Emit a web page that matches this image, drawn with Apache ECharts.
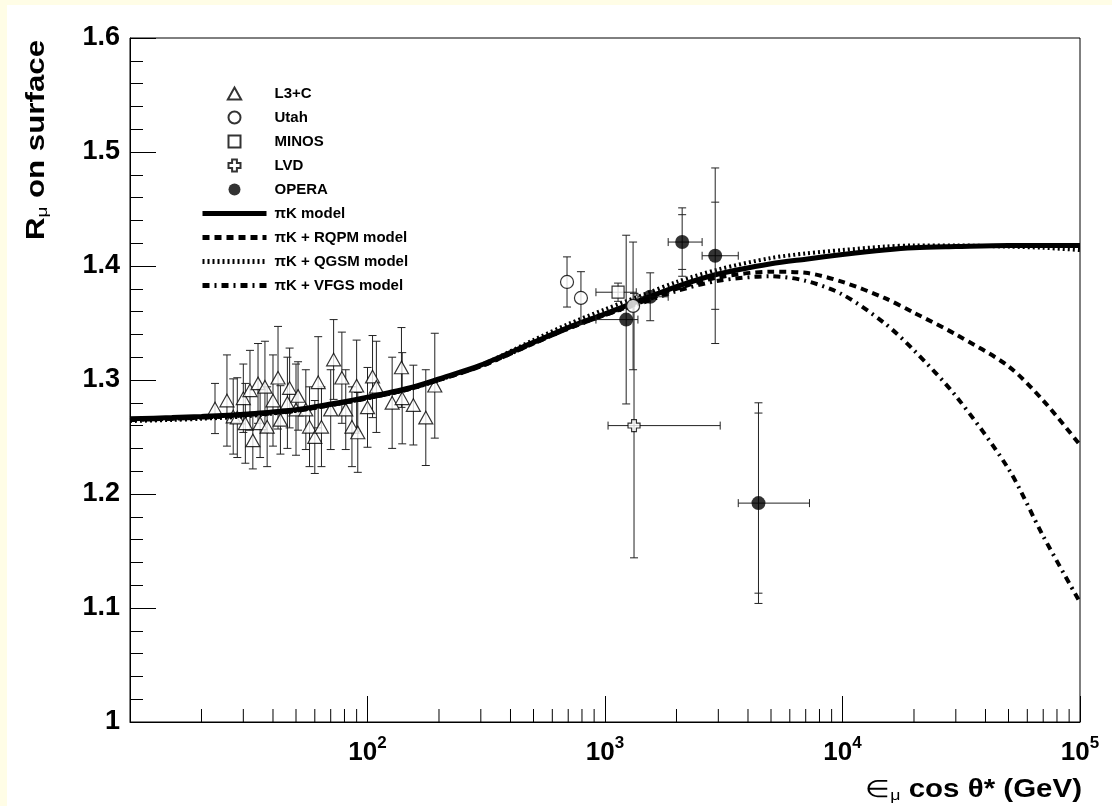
<!DOCTYPE html>
<html><head><meta charset="utf-8">
<script src="https://cdn.jsdelivr.net/npm/echarts@6/dist/echarts.min.js"></script>
<style>
html,body{margin:0;padding:0;background:#fffde6;width:1112px;height:806px;overflow:hidden;}
#wrap{position:absolute;left:7px;top:5px;width:1105px;height:801px;background:#fff;}
#chart{position:absolute;left:0;top:0;width:1112px;height:806px;}
</style></head><body>
<div id="wrap"></div><div id="chart"></div>
<script>
// ---------- data ----------
const modelX = [10, 15, 20, 30, 50, 70, 100, 150, 200, 300, 500, 700, 1000, 1500, 2000, 3000, 5000, 7000, 10000, 15000, 20000, 30000, 50000, 70000, 100000];
const piK  = [1.266,1.267,1.268,1.270,1.274,1.279,1.285,1.293,1.301,1.313,1.333,1.346,1.358,1.372,1.382,1.393,1.402,1.406,1.410,1.414,1.416,1.417,1.418,1.418,1.418];
const qgsm = [1.264,1.265,1.266,1.268,1.273,1.278,1.284,1.292,1.300,1.313,1.335,1.349,1.362,1.376,1.386,1.397,1.407,1.411,1.414,1.417,1.418,1.418,1.417,1.416,1.414];
const rqpm = [1.265,1.266,1.267,1.269,1.273,1.278,1.284,1.292,1.300,1.312,1.332,1.345,1.357,1.370,1.380,1.390,1.395,1.394,1.386,1.372,1.359,1.340,1.312,1.282,1.243];
const vfgs = [1.265,1.266,1.267,1.269,1.273,1.278,1.284,1.292,1.300,1.312,1.332,1.345,1.357,1.369,1.378,1.387,1.391,1.387,1.375,1.350,1.326,1.286,1.222,1.163,1.105];

const l3cX   = [22.8,25.6,27.2,28.3,30.0,30.6,32.0,32.9,34.6,35.3,37.0,37.8,40.0,42.0,43.0,46.0,47.0,50.0,51.0,55.0,57.0,60.0,62.0,64.0,70.0,72.0,78.0,81.0,86.0,90.0,91.0,100,105,109,127,139,140,156,176,192];
const l3cY   = [1.275,1.282,1.268,1.267,1.284,1.262,1.291,1.247,1.297,1.262,1.294,1.259,1.282,1.302,1.265,1.280,1.293,1.274,1.286,1.274,1.259,1.250,1.298,1.259,1.274,1.318,1.302,1.274,1.259,1.295,1.254,1.276,1.303,1.294,1.280,1.311,1.284,1.278,1.267,1.295];
const l3cErr = [0.022,0.040,0.033,0.035,0.030,0.035,0.035,0.025,0.035,0.030,0.040,0.035,0.040,0.045,0.030,0.040,0.035,0.040,0.030,0.035,0.035,0.032,0.040,0.035,0.035,0.035,0.040,0.035,0.035,0.040,0.035,0.035,0.036,0.040,0.040,0.035,0.040,0.035,0.042,0.046];

const utahX = [692, 792, 1313];
const utahY = [1.386, 1.372, 1.365];
const utahErr = [0.022, 0.023, 0.056];

const minosX = [1135];
const minosY = [1.377];
const minosErr = [0.008];
const minosXLo = [916];
const minosXHi = [1354];

const lvdX = [1325];
const lvdY = [1.260];
const lvdErr = [0.116];
const lvdXLo = [1030];
const lvdXHi = [3055];

const operaX = [1228, 1550, 2113, 2911, 4428];
const operaY = [1.353, 1.373, 1.421, 1.409, 1.192];
const operaErr = [0.074, 0.021, 0.030, 0.077, 0.088];
const operaErrInner = [0, 0, 0.024, 0.047, 0.079];
const operaXLo = [916, 1376, 1845, 2564, 3640];
const operaXHi = [1376, 1845, 2564, 3640, 7260];

const decades = [10, 100, 1000, 10000];
const yTickLabels = ['1', '1.1', '1.2', '1.3', '1.4', '1.5', '1.6'];

// ---------- helpers ----------
const FONT = "'Liberation Sans', Arial, sans-serif";
function pairs(xs, ys) { return xs.map((x, i) => [x, ys[i]]); }
function errData(xs, ys, es, xlo, xhi, inner) {
  return xs.map((x, i) => [x, ys[i], ys[i] - es[i], ys[i] + es[i],
    xlo ? xlo[i] : 0, xhi ? xhi[i] : 0, inner ? inner[i] : 0]);
}
function errRender(params, api) {
  const x = api.value(0), y = api.value(1), lo = api.value(2), hi = api.value(3);
  const xl = api.value(4), xh = api.value(5), inner = api.value(6);
  const st = { stroke: '#222', lineWidth: 1 };
  const cap = 4;
  const pLo = api.coord([x, lo]), pHi = api.coord([x, hi]);
  const ch = [];
  const L = (x1, y1, x2, y2) => ch.push({ type: 'line', shape: { x1, y1, x2, y2 }, style: st });
  L(pLo[0], pLo[1], pHi[0], pHi[1]);
  L(pLo[0] - cap, pLo[1], pLo[0] + cap, pLo[1]);
  L(pHi[0] - cap, pHi[1], pHi[0] + cap, pHi[1]);
  if (inner > 0) {
    const a = api.coord([x, y - inner]), b = api.coord([x, y + inner]);
    L(a[0] - cap, a[1], a[0] + cap, a[1]);
    L(b[0] - cap, b[1], b[0] + cap, b[1]);
  }
  if (xl > 0) {
    const a = api.coord([xl, y]), b = api.coord([xh, y]);
    L(a[0], a[1], b[0], b[1]);
    L(a[0], a[1] - cap, a[0], a[1] + cap);
    L(b[0], b[1] - cap, b[0], b[1] + cap);
  }
  return { type: 'group', children: ch };
}
const minorTicks = [];
decades.forEach(d => { for (let k = 2; k <= 9; k++) minorTicks.push([d * k, 1]); });

const crossPath = 'path://M3,0 L7,0 L7,3 L10,3 L10,7 L7,7 L7,10 L3,10 L3,7 L0,7 L0,3 L3,3 Z';
const triPath = 'path://M5,0 L10,9 L0,9 Z';
const sqPath = 'path://M0,0 L10,0 L10,10 L0,10 Z';

const hideSym = { color: 'rgba(0,0,0,0)', borderWidth: 0 };
const lineLegend = (name, type) => ({ name, itemStyle: hideSym, lineStyle: { color: '#000', width: 5, type: type } });

const chart = echarts.init(document.getElementById('chart'), null, { renderer: 'canvas' });
const option = {
  backgroundColor: 'transparent',
  animation: false,
  grid: { left: 130, right: 32, top: 38, bottom: 84, show: true, backgroundColor: '#fff', borderColor: '#000', borderWidth: 1 },
  xAxis: {
    type: 'log', logBase: 10, min: 10, max: 100000,
    axisLine: { lineStyle: { color: '#000', width: 1 } },
    axisTick: { inside: true, length: 26, lineStyle: { color: '#000' } },
    minorTick: { show: false },
    splitLine: { show: false },
    axisLabel: {
      margin: 13, color: '#000',
      formatter: v => { const e = Math.round(Math.log10(v)); return e < 2 ? '' : '{b|10}{s|' + e + '}'; },
      rich: {
        b: { fontSize: 26, fontWeight: 'bold', fontFamily: FONT, color: '#000' },
        s: { fontSize: 17, fontWeight: 'bold', fontFamily: FONT, color: '#000', padding: [0, 0, 18, 0] }
      }
    }
  },
  yAxis: {
    type: 'value', min: 1, max: 1.6, interval: 0.1,
    axisLine: { show: true, lineStyle: { color: '#000', width: 1 } },
    axisTick: { inside: true, length: 26, lineStyle: { color: '#000' } },
    minorTick: { show: true, splitNumber: 5, length: 13, lineStyle: { color: '#000' } },
    splitLine: { show: false },
    axisLabel: {
      margin: 10, color: '#000', fontSize: 27, fontWeight: 'bold', fontFamily: FONT,
      formatter: v => yTickLabels[Math.round((v - 1) * 10)]
    }
  },
  legend: {
    orient: 'vertical', left: 200, top: 86, padding: 0, itemWidth: 64, itemHeight: 12, itemGap: 9,
    textStyle: { fontSize: 15, fontWeight: 'bold', fontFamily: FONT, color: '#000', lineHeight: 15, padding: [0, 0, 0, 3] },
    data: ['L3+C', 'Utah', 'MINOS', 'LVD', 'OPERA',
      lineLegend('πK model', 'solid'),
      lineLegend('πK + RQPM model', [7, 5]),
      lineLegend('πK + QGSM model', [2, 3]),
      lineLegend('πK + VFGS model', [7, 5, 2, 5])]
  },
  graphic: [
    {
      type: 'text', x: 37, y: 140, rotation: Math.PI / 2, scaleX: 1.25,
      style: {
        text: '{r|R}{m|μ}{r| on surface}', align: 'center', verticalAlign: 'middle',
        rich: {
          r: { fontSize: 25, fontWeight: 'bold', fontFamily: FONT, fill: '#000' },
          m: { fontSize: 15, fontFamily: FONT, fill: '#000', padding: [12, 0, 0, 0] }
        }
      }
    },
    {
      type: 'text', x: 1082, y: 790, scaleX: 1.18,
      style: {
        text: '{e|∈}{m|μ}{t| cos θ* (GeV)}', align: 'right', verticalAlign: 'middle',
        rich: {
          e: { fontSize: 24, fontFamily: FONT, fill: '#000' },
          m: { fontSize: 15, fontFamily: FONT, fill: '#000', padding: [12, 0, 0, 0] },
          t: { fontSize: 25, fontWeight: 'bold', fontFamily: FONT, fill: '#000' }
        }
      }
    }
  ],
  series: [
    { type: 'custom', name: 'minorX', silent: true, clip: false, data: minorTicks, encode: { x: 0, y: 1 }, z: 5,
      renderItem: (p, api) => { const c = api.coord([api.value(0), 1]); return { type: 'line', shape: { x1: c[0], y1: c[1], x2: c[0], y2: c[1] - 13 }, style: { stroke: '#000', lineWidth: 1 } }; } },
    // L3+C
    { type: 'custom', name: 'l3cErr', silent: true, data: errData(l3cX, l3cY, l3cErr), encode: { x: 0, y: 1 }, renderItem: errRender, z: 2 },
    { type: 'scatter', name: 'L3+C', data: pairs(l3cX, l3cY), symbol: triPath, symbolSize: 14, symbolKeepAspect: true,
      itemStyle: { color: '#fff', borderColor: '#000', borderWidth: 1.2 }, z: 2 },
    // models
    { type: 'line', name: 'πK model', data: pairs(modelX, piK), smooth: 0.3, symbol: 'none', lineStyle: { color: '#000', width: 5 }, itemStyle: { color: '#000' }, z: 3 },
    { type: 'line', name: 'πK + RQPM model', data: pairs(modelX, rqpm), smooth: 0.3, symbol: 'none', lineStyle: { color: '#000', width: 4, type: [7, 5] }, itemStyle: { color: '#000' }, z: 3 },
    { type: 'line', name: 'πK + QGSM model', data: pairs(modelX, qgsm), smooth: 0.3, symbol: 'none', lineStyle: { color: '#000', width: 4, type: [2, 3] }, itemStyle: { color: '#000' }, z: 3 },
    { type: 'line', name: 'πK + VFGS model', data: pairs(modelX, vfgs), smooth: 0.3, symbol: 'none', lineStyle: { color: '#000', width: 4, type: [7, 5, 2, 5] }, itemStyle: { color: '#000' }, z: 3 },
    // Utah
    { type: 'custom', name: 'utahErr', silent: true, data: errData(utahX, utahY, utahErr), encode: { x: 0, y: 1 }, renderItem: errRender, z: 4 },
    { type: 'scatter', name: 'Utah', data: pairs(utahX, utahY), symbol: 'circle', symbolSize: 13,
      itemStyle: { color: '#fff', borderColor: '#000', borderWidth: 1.2 }, z: 4 },
    // MINOS
    { type: 'custom', name: 'minosErr', silent: true, data: errData(minosX, minosY, minosErr, minosXLo, minosXHi), encode: { x: 0, y: 1 }, renderItem: errRender, z: 4 },
    { type: 'scatter', name: 'MINOS', data: pairs(minosX, minosY), symbol: sqPath, symbolSize: 12, symbolKeepAspect: true,
      itemStyle: { color: '#fff', borderColor: '#000', borderWidth: 1.2 }, z: 4 },
    // LVD
    { type: 'custom', name: 'lvdErr', silent: true, data: errData(lvdX, lvdY, lvdErr, lvdXLo, lvdXHi), encode: { x: 0, y: 1 }, renderItem: errRender, z: 4 },
    { type: 'scatter', name: 'LVD', data: pairs(lvdX, lvdY), symbol: crossPath, symbolSize: 12, symbolKeepAspect: true,
      itemStyle: { color: '#fff', borderColor: '#000', borderWidth: 1.2 }, z: 4 },
    // OPERA
    { type: 'custom', name: 'operaErr', silent: true, data: errData(operaX, operaY, operaErr, operaXLo, operaXHi, operaErrInner), encode: { x: 0, y: 1 }, renderItem: errRender, z: 4 },
    { type: 'scatter', name: 'OPERA', data: pairs(operaX, operaY), symbol: 'circle', symbolSize: 14,
      itemStyle: { color: '#000', borderColor: '#000', borderWidth: 0 }, z: 5 }
  ]
};
chart.setOption(option);
</script>
</body></html>
